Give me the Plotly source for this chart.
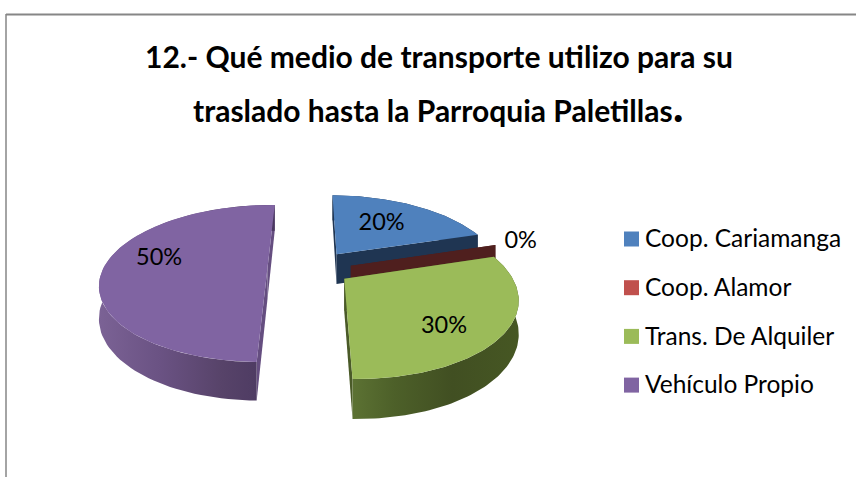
import numpy as np
import plotly.graph_objects as go

title_lines = ["12.- Qué medio de transporte utilizo para su",
               "traslado hasta la Parroquia Paletillas"]
categories = ["Coop. Cariamanga", "Coop. Alamor", "Trans. De Alquiler", "Vehículo Propio"]
percents = [20, 0, 30, 50]

colors = ["#4F81BD", "#C0504D", "#9BBB59", "#8064A2"]
wall_colors = [
    [(0, "#1F3552"), (1, "#1F3552")],
    [(0, "#4F1F1E"), (1, "#4F1F1E")],
    [(0, "#5C7233"), (0.25, "#4D6029"), (0.6, "#414F22"), (1, "#465723")],
    [(0, "#7B6295"), (0.35, "#6A5283"), (0.7, "#574369"), (1, "#4A3860")],
]
cut_colors = ["#1F3552", "#4F1F1E", "#4A5A28", "#654E80"]

# projection of the tilted pie, in pixels
X0, Y0, RX, RY, K, DEPTH = 297, 268, 164, 75.5, 0.197, 31
FIRST_ANGLE = 1
# how far each slice is pulled out (sideways, towards viewer)
explode = [(0.25, -0.19), (0.33, -0.03), (0.28, 0.14), (-0.18, 0.0)]
# data label placement inside each slice: radius, angle shift in degrees
label_radius = [0.60, 1.20, 0.72, 0.70]
label_shift = [-3, -1, 9, 11]


def project(wx, wv):
    s = 1 / (1 - K * wv)
    return X0 + RX * wx * s, Y0 + RY * wv * s, s


def slice_xy(theta, off, r=1.0):
    rad = np.radians(theta)
    return off[0] + r * np.sin(rad), off[1] - r * np.cos(rad)


def add_poly(fig, xs, ys, name, color=None, gradient=None):
    style = dict(fillcolor=color) if gradient is None else dict(fillgradient=gradient)
    fig.add_trace(go.Scatter(x=xs, y=ys, mode="lines", fill="toself", line=dict(width=0),
                             hoverinfo="skip", name=name, showlegend=False, **style))


fig = go.Figure()

start = FIRST_ANGLE
arcs = []
for pct in percents:
    arcs.append((start, start + pct * 3.6))
    start += pct * 3.6

for i, (t1, t2) in enumerate(arcs):
    off = explode[i]
    thetas = np.linspace(t1, t2, 90)
    px, py, ps = project(*np.array([slice_xy(t, off) for t in thetas]).T)
    ax, ay, a_s = project(off[0], off[1])
    drop = DEPTH * ps
    a_drop = DEPTH * a_s

    # cut faces first, then the rim, then the top
    add_poly(fig, [ax, px[0], px[0], ax], [ay, py[0], py[0] + drop[0], ay + a_drop],
             categories[i], cut_colors[i])
    add_poly(fig, [ax, px[-1], px[-1], ax], [ay, py[-1], py[-1] + drop[-1], ay + a_drop],
             categories[i], cut_colors[i])
    if percents[i] > 0:
        add_poly(fig, list(px) + list(px[::-1]), list(py) + list((py + drop)[::-1]),
                 categories[i],
                 gradient=dict(type="horizontal", colorscale=wall_colors[i],
                               start=float(px.min()), stop=float(px.max())))
        add_poly(fig, [ax] + list(px) + [ax], [ay] + list(py) + [ay], categories[i], colors[i])

# data labels
for i, (t1, t2) in enumerate(arcs):
    mid = (t1 + t2) / 2 + label_shift[i]
    lx, ly, _ = project(*slice_xy(mid, explode[i], label_radius[i]))
    fig.add_trace(go.Scatter(x=[lx], y=[ly + 2], mode="text", text=[f"{percents[i]}%"],
                             textfont=dict(family="Lato", size=23.5, color="black"),
                             hoverinfo="skip", showlegend=False))

# legend drawn by hand to keep the swatch/label gap of the original
for i, name in enumerate(categories):
    y = 239 + 48.7 * i
    fig.add_trace(go.Scatter(x=[631.5], y=[y], mode="markers",
                             marker=dict(symbol="square", size=15, color=colors[i]),
                             name=name, showlegend=False))
    fig.add_trace(go.Scatter(x=[645], y=[y + 2], mode="text", text=[name],
                             textposition="middle right",
                             textfont=dict(family="Lato", size=24.5, color="black"),
                             hoverinfo="skip", showlegend=False))

fig.update_layout(
    width=856, height=477,
    margin=dict(l=0, r=0, t=0, b=0),
    paper_bgcolor="white", plot_bgcolor="white",
    showlegend=False,
    title=dict(text="<b>" + title_lines[0] + "</b>", x=439 / 856, xanchor="center",
               y=1 - 57 / 477, yanchor="middle",
               font=dict(family="Lato", size=30, color="black")),
    annotations=[dict(text="<b>" + title_lines[1] + "<span style='font-size:46px'>.</span></b>",
                      x=438, y=104, xref="x", yref="y", showarrow=False,
                      font=dict(family="Lato", size=30, color="black"))],
    shapes=[
        dict(type="line", x0=6, x1=856, y0=14.5, y1=14.5, line=dict(color="#868686", width=2)),
        dict(type="line", x0=6, x1=6, y0=14, y1=477, line=dict(color="#868686", width=1.5)),
    ],
)
fig.update_xaxes(visible=False, range=[0, 856], fixedrange=True)
fig.update_yaxes(visible=False, range=[477, 0], fixedrange=True)

# the page's default body margin would push the figure 8px in
fig.write_html("out.html", config={"displayModeBar": False},
               post_script="document.body.style.margin = '0';")
